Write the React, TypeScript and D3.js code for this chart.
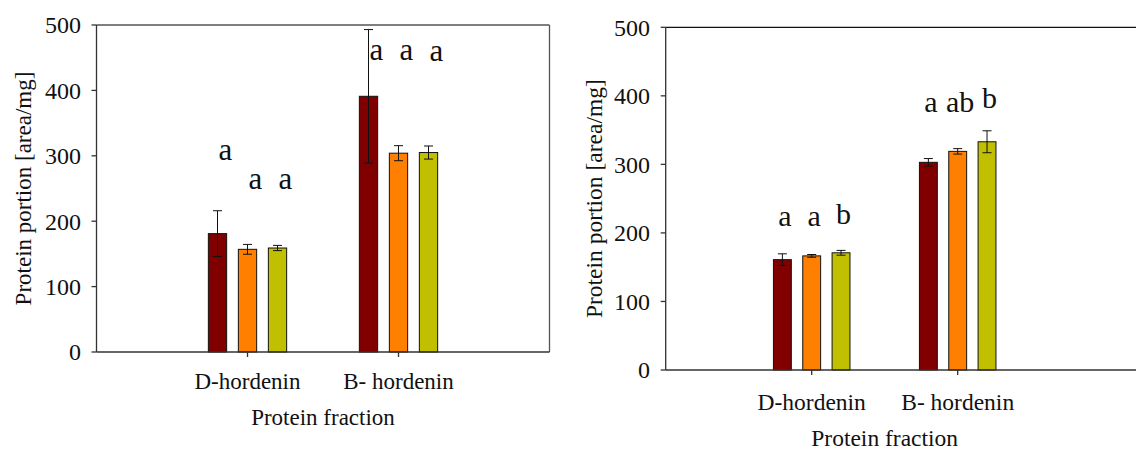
import * as d3 from 'd3'

// categories and series
const categories = ['D-hordenin', 'B- hordenin']
const seriesNames = ['treatment 1', 'treatment 2', 'treatment 3']
const seriesColors = ['#800000', '#FF8000', '#C0C000']
const yTicks = [0, 100, 200, 300, 400, 500]

// left panel: means and error per series (D, B)
const leftValues = [
  [181, 391],
  [157, 304],
  [159, 305],
]
const leftErrors = [
  [35, 102],
  [7.5, 11.5],
  [4, 10],
]
const leftLetters = [
  ['a', 'a'],
  ['a', 'a'],
  ['a', 'a'],
]
const leftLetterLevels = [
  [293, 446],
  [249.5, 446],
  [249.5, 444.5],
]

// right panel
const rightValues = [
  [161, 303],
  [166.5, 319],
  [171, 333],
]
const rightErrors = [
  [8.5, 5.5],
  [2, 4],
  [3.5, 16],
]
const rightLetters = [
  ['a', 'a'],
  ['a', 'ab'],
  ['b', 'b'],
]
const rightLetterLevels = [
  [210, 377],
  [210, 377],
  [213, 382],
]

const FONT = "'Liberation Serif', 'DejaVu Serif', serif"

type PanelProps = {
  x0: number
  plotEnd: number
  lineEnd: number
  yTop: number
  yBottom: number
  groupHalf: number
  values: number[][]
  errors: number[][]
  letters: string[][]
  letterLevels: number[][]
  letterDx: number
  letterSize: number
  tickLabelRight: number
  tickLabelBaseline: number
  titleBaseline: number
  yTitleX: number
  fontSize: number
  rightBorder: boolean
  frameColor: string
}

const Panel = (p: PanelProps) => {
  const step = (p.plotEnd - p.x0) / 3
  const x = d3
    .scaleBand()
    .domain(categories)
    .range([p.x0 + step / 2, p.x0 + step * 2.5])
  const inner = d3
    .scaleBand()
    .domain(seriesNames)
    .range([-p.groupHalf, p.groupHalf])
    .paddingInner(0.39)
    .paddingOuter(0.195)
  const y = d3.scaleLinear().domain([0, 500]).range([p.yBottom, p.yTop])
  const center = (c: string) => (x(c) as number) + x.bandwidth() / 2
  const barX = (c: string, s: string) => center(c) + (inner(s) as number)
  const bw = inner.bandwidth()
  const midX = (p.x0 + p.plotEnd) / 2
  const midY = (p.yTop + p.yBottom) / 2
  const txt = { fontFamily: FONT, fontSize: p.fontSize, fill: '#111' }

  return (
    <g>
      {/* frame */}
      <line x1={p.x0} x2={p.lineEnd} y1={y(500)} y2={y(500)} stroke={p.frameColor} strokeWidth={1.3} />
      {p.rightBorder && (
        <line x1={p.lineEnd} x2={p.lineEnd} y1={y(500)} y2={y(0)} stroke={p.frameColor} strokeWidth={1.3} />
      )}

      {/* bars */}
      {seriesNames.map((s, si) =>
        categories.map((c, ci) => (
          <rect
            key={s + c}
            x={barX(c, s)}
            y={y(p.values[si][ci])}
            width={bw}
            height={y(0) - y(p.values[si][ci])}
            fill={seriesColors[si]}
            stroke="#111"
            strokeWidth={1}
          />
        ))
      )}

      {/* error bars */}
      {seriesNames.map((s, si) =>
        categories.map((c, ci) => {
          const cx = barX(c, s) + bw / 2
          const lo = y(p.values[si][ci] - p.errors[si][ci])
          const hi = y(p.values[si][ci] + p.errors[si][ci])
          return (
            <g key={'e' + s + c} stroke="#111" strokeWidth={1}>
              <line x1={cx} x2={cx} y1={lo} y2={hi} />
              <line x1={cx - 4.5} x2={cx + 4.5} y1={lo} y2={lo} />
              <line x1={cx - 4.5} x2={cx + 4.5} y1={hi} y2={hi} />
            </g>
          )
        })
      )}

      {/* significance letters */}
      {seriesNames.map((s, si) =>
        categories.map((c, ci) => (
          <text
            key={'l' + s + c}
            x={barX(c, s) + bw / 2 + p.letterDx}
            y={y(p.letterLevels[si][ci])}
            textAnchor="middle"
            style={{ ...txt, fontSize: p.letterSize }}
          >
            {p.letters[si][ci]}
          </text>
        ))
      )}

      {/* axes */}
      <line x1={p.x0} x2={p.x0} y1={y(500)} y2={y(0)} stroke="#333" strokeWidth={1.3} />
      <line x1={p.x0} x2={p.lineEnd} y1={y(0)} y2={y(0)} stroke="#333" strokeWidth={1.5} />
      {yTicks.map((t) => (
        <g key={'t' + t}>
          <line x1={p.x0 - 5} x2={p.x0} y1={y(t)} y2={y(t)} stroke="#333" strokeWidth={1.3} />
          <text x={p.tickLabelRight} y={y(t)} dy="0.35em" textAnchor="end" style={{ ...txt, fontSize: 24 }}>
            {t}
          </text>
        </g>
      ))}
      {categories.map((c) => (
        <g key={'c' + c}>
          <line x1={center(c)} x2={center(c)} y1={y(0)} y2={y(0) + 5} stroke="#333" strokeWidth={1.3} />
          <text x={center(c)} y={p.tickLabelBaseline} textAnchor="middle" style={txt}>
            {c}
          </text>
        </g>
      ))}

      {/* titles */}
      <text x={midX} y={p.titleBaseline} textAnchor="middle" style={txt}>
        Protein fraction
      </text>
      <text
        transform={`translate(${p.yTitleX}, ${midY}) rotate(-90)`}
        textAnchor="middle"
        style={txt}
      >
        Protein portion [area/mg]
      </text>
    </g>
  )
}

export default function App() {
  return (
    <svg
      width={1136}
      height={450}
      style={{ position: 'absolute', left: 0, top: 0, background: '#fff' }}
    >
      <Panel
        x0={96.5}
        plotEnd={549.5}
        lineEnd={549.5}
        yTop={25}
        yBottom={352}
        groupHalf={45}
        values={leftValues}
        errors={leftErrors}
        letters={leftLetters}
        letterLevels={leftLetterLevels}
        letterDx={8}
        letterSize={31}
        tickLabelRight={81}
        tickLabelBaseline={389}
        titleBaseline={425}
        yTitleX={30.5}
        fontSize={23}
        rightBorder={true}
        frameColor="#555"
      />
      <Panel
        x0={665.7}
        plotEnd={1103.7}
        lineEnd={1140}
        yTop={27.3}
        yBottom={370}
        groupHalf={44}
        values={rightValues}
        errors={rightErrors}
        letters={rightLetters}
        letterLevels={rightLetterLevels}
        letterDx={2.5}
        letterSize={30}
        tickLabelRight={650}
        tickLabelBaseline={409.5}
        titleBaseline={445.5}
        yTitleX={601.5}
        fontSize={23.5}
        rightBorder={false}
        frameColor="#111"
      />
    </svg>
  )
}
